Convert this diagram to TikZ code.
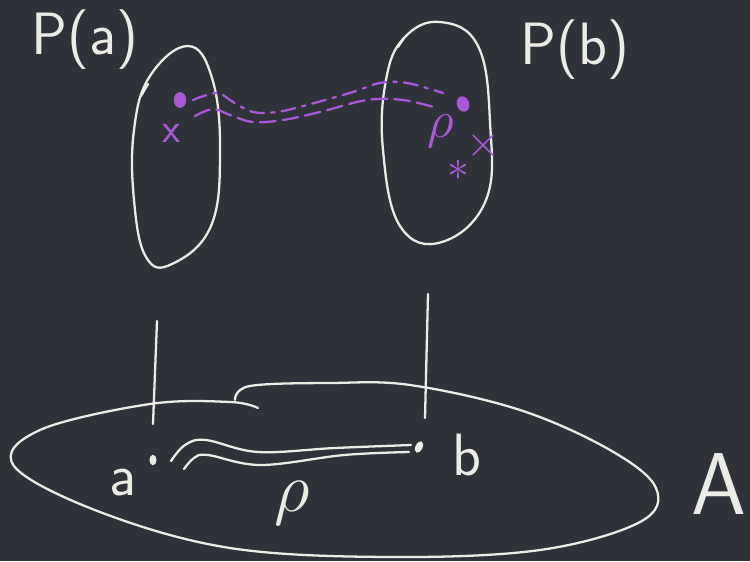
\documentclass[tikz,border=0pt]{standalone}
\usepackage{xcolor,graphicx}
\definecolor{bgdark}{RGB}{48,50,58}
\definecolor{chalk}{RGB}{236,236,230}
\definecolor{lilac}{RGB}{168,88,216}
\usetikzlibrary{positioning,shapes.geometric}

\begin{document}
\begin{tikzpicture}[x=0.02cm, y=-0.02cm,
    stroke/.style={draw=chalk, line width=1.3pt, line cap=round, line join=round},
    pstroke/.style={draw=lilac, line width=1.3pt, line cap=round},
    hand/.style={text=chalk, font=\sffamily\fontsize{34}{40}\selectfont, inner sep=0pt},
    phand/.style={text=lilac, font=\sffamily\fontsize{24}{28}\selectfont, inner sep=0pt},
    dotmark/.style={ellipse, fill=#1, inner sep=0pt, minimum width=7pt, minimum height=9pt}
  ]
    % background
    \fill[bgdark] (0,0) rectangle (750,561);
    \useasboundingbox (0,0) rectangle (750,561);

    % fibre over a
    \draw[stroke] plot[smooth cycle, tension=0.7] coordinates
      {(188,46) (212,78) (220,150) (211,226) (172,264) (146,257) (134,200) (134,130) (150,76)};
    \draw[stroke] (148,84) -- (141,96);
    \node[hand] (Pa) at (85,40) {P(a)};

    % fibre over b
    \draw[stroke] plot[smooth cycle, tension=0.7] coordinates
      {(440,22) (478,46) (490,122) (486,200) (442,242) (400,226) (383,150) (386,80) (404,38)};
    \draw[stroke] (404,38) -- (398,47);
    \node[hand] (Pb) at (575,50) {P(b)};

    % base space A
    \draw[stroke] plot[smooth, tension=0.6] coordinates
      {(235,400) (250,386) (330,383) (410,385) (520,410) (610,450) (656,488) (640,522)
       (540,550) (390,557) (230,548) (100,512) (14,466) (40,430) (150,404) (230,402) (258,408)};
    \node[hand, font=\sffamily\fontsize{50}{56}\selectfont] (Alab) at (719,484) {A};

    % projections
    \draw[stroke] (157,321) -- (153,424);
    \draw[stroke] (428,294) -- (425,418);

    % base points and path rho
    \node[dotmark=chalk, minimum width=4pt, minimum height=6pt] (a) at (153,460) {};
    \node[dotmark=chalk, minimum width=4pt, minimum height=7pt, rotate=-25] (b) at (419,447) {};
    \node[hand] (alab) at (123,483) {a};
    \node[hand] (blab) at (467,455) {b};
    \draw[stroke] plot[smooth, tension=0.6] coordinates
      {(171,461) (185,445) (206,440) (258,452) (335,448) (411,445)};
    \draw[stroke] plot[smooth, tension=0.6] coordinates
      {(184,469) (194,458) (208,455) (261,465) (344,455) (409,452)};
    \node[hand] (rho) at (292,503) {\scalebox{1.6}{$\rho$}};

    % lifts in the fibres
    \node[dotmark=lilac] (x0) at (180,100) {};
    \node[phand] (xlab) at (172,133) {x};
    \node[dotmark=lilac, rotate=20] (y0) at (463,104) {};
    \node[phand] (rholab) at (441,131) {\scalebox{1.2}{$\rho$}};
    \node[phand] (cross) at (483,146) {$\times$};
    \node[phand] (star) at (458,170) {$\ast$};
    \draw[pstroke, dash pattern=on 8pt off 4pt on 2pt off 4pt] plot[smooth, tension=0.6] coordinates
      {(193,100) (217,93) (233,102) (253,112) (277,112) (307,105) (353,92) (380,83) (407,83) (443,93)};
    \draw[pstroke, dash pattern=on 9pt off 4pt] plot[smooth, tension=0.6] coordinates
      {(195,116) (213,109) (230,115) (253,122) (283,120) (320,112) (367,100) (403,100) (437,108)};
  \end{tikzpicture}
\end{document}
